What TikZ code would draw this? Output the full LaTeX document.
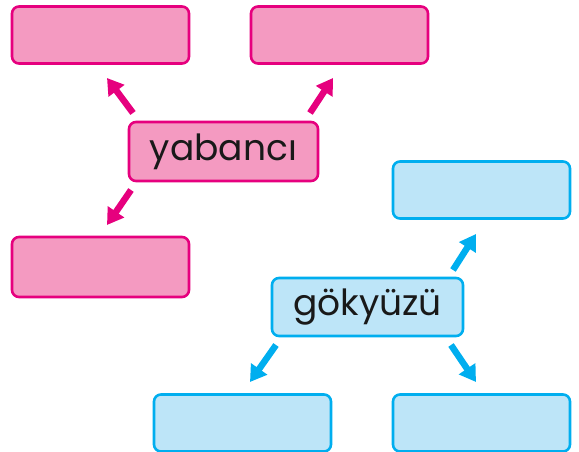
\documentclass[tikz,border=0pt]{standalone}
\usepackage{fontspec}
\setmainfont{Poppins}
\usetikzlibrary{arrows.meta}
\definecolor{pinkfill}{HTML}{F49AC1}
\definecolor{pinkline}{HTML}{E6007E}
\definecolor{bluefill}{HTML}{BDE5F8}
\definecolor{blueline}{HTML}{00AEEF}
\tikzset{
  box/.style={rectangle, rounded corners=7pt, line width=2.6pt,
    minimum width=177pt, minimum height=57pt, inner sep=0pt},
  pinkbox/.style={box, draw=pinkline, fill=pinkfill},
  bluebox/.style={box, draw=blueline, fill=bluefill},
  word/.style={font=\fontsize{36}{40}\selectfont, text=black!90},
  arr/.style={line width=6.5pt, -{Triangle[length=16pt,width=19pt]}},
}
\begin{document}
\begin{tikzpicture}[x=1pt,y=-1pt]
  \useasboundingbox (0,0) rectangle (579,452);
  % yabanci
  \node[pinkbox] (tl) at (100.5,35) {};
  \node[pinkbox] (tr) at (339.5,35) {};
  \node[pinkbox, minimum width=189pt, minimum height=59pt, word] (yab) at (223.5,151.5) {yabancı};
  \node[pinkbox, minimum height=60pt] (bl) at (100.5,267) {};
  % gokyuzu
  \node[bluebox] (br) at (481.5,190) {};
  \node[bluebox, minimum width=191pt, minimum height=58pt, word] (gok) at (367.5,307) {gökyüzü};
  \node[bluebox] (gbl) at (242.5,423) {};
  \node[bluebox] (gbr) at (481.5,423) {};
  % arrows
  \coordinate (p1) at (133,113);
  \coordinate (q1) at (107,78);
  \coordinate (p2) at (310,113);
  \coordinate (q2) at (333,78);
  \coordinate (p3) at (131,190);
  \coordinate (q3) at (107,225);
  \coordinate (p4) at (453,270);
  \coordinate (q4) at (476,234);
  \coordinate (p5) at (276,345);
  \coordinate (q5) at (250,382);
  \coordinate (p6) at (451,345);
  \coordinate (q6) at (476,382);
  \draw[arr, pinkline] (p1) -- (q1);
  \draw[arr, pinkline] (p2) -- (q2);
  \draw[arr, pinkline] (p3) -- (q3);
  \draw[arr, blueline] (p4) -- (q4);
  \draw[arr, blueline] (p5) -- (q5);
  \draw[arr, blueline] (p6) -- (q6);
\end{tikzpicture}
\end{document}
